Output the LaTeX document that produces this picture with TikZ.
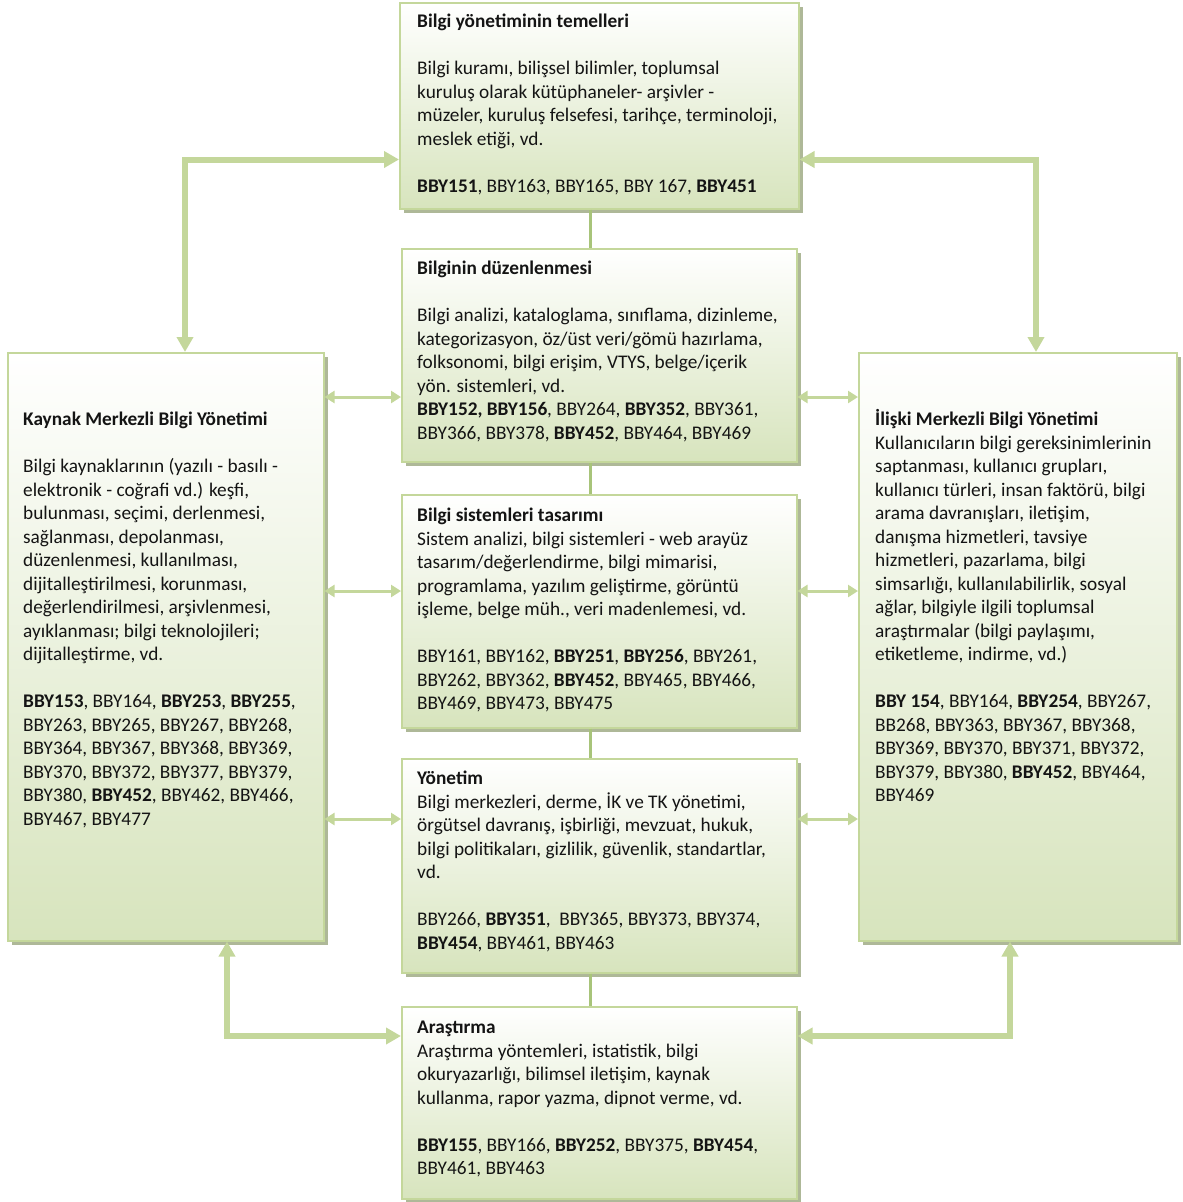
\documentclass[tikz,border=0pt]{standalone}
\usepackage{fontspec}
\setmainfont{Carlito}
\usetikzlibrary{arrows.meta,shadows,calc}
\definecolor{boxline}{HTML}{C4D79B}
\definecolor{boxfill}{HTML}{D7E4BD}
\definecolor{shadowc}{HTML}{AEB898}
\definecolor{conn}{HTML}{C4D79B}
\definecolor{vline}{HTML}{A8C47A}
\definecolor{txtc}{HTML}{141414}
\tikzset{
 panel/.style={draw=boxline, line width=1.5pt, top color=white, bottom color=boxfill, anchor=north west, inner sep=0pt,
   general shadow={fill=shadowc, shadow xshift=4pt, shadow yshift=-4pt}},
 txt/.style={anchor=base west, inner sep=0pt, font=\fontsize{19.3}{23.5}\selectfont, text=txtc},
 bigconn/.style={draw=conn, line width=6pt, {Triangle[length=15pt,width=16pt]}-{Triangle[length=15pt,width=16pt]}},
 smallconn/.style={draw=conn, line width=3pt, {Triangle[length=10pt,width=12pt]}-{Triangle[length=10pt,width=12pt]}},
 link/.style={draw=vline, line width=3pt},
}
\begin{document}
\begin{tikzpicture}[x=1pt,y=-1pt]
\useasboundingbox (0,0) rectangle (1183,1202);
% boxes
\node[panel, minimum width=399pt, minimum height=206pt] (T) at (399,2) {};
\node[panel, minimum width=395pt, minimum height=213pt] (O) at (401,248) {};
\node[panel, minimum width=395pt, minimum height=233pt] (S) at (401,494) {};
\node[panel, minimum width=395pt, minimum height=214pt] (Y) at (401,758) {};
\node[panel, minimum width=395pt, minimum height=192pt] (A) at (401,1006) {};
\node[panel, minimum width=316pt, minimum height=588pt] (L) at (7,352) {};
\node[panel, minimum width=318pt, minimum height=588pt] (R) at (858,352) {};
% vertical links
\draw[link] ([xshift=-9pt]T.south) -- ([xshift=-9pt]O.north);
\draw[link] ([xshift=-9pt]O.south) -- ([xshift=-9pt]S.north);
\draw[link] ([xshift=-9pt]S.south) -- ([xshift=-9pt]Y.north);
\draw[link] ([xshift=-9pt]Y.south) -- ([xshift=-9pt]A.north);
% outer connectors
\draw[bigconn] ([xshift=178pt]L.north west) |- ([yshift=50pt]T.south west);
\draw[bigconn] ([yshift=50pt]T.south east) -| ([xshift=178pt]R.north west);
\draw[bigconn] ([xshift=220pt]L.south west) |- ([yshift=-30pt]A.north west);
\draw[bigconn] ([xshift=152pt]R.south west) |- ([yshift=-30pt]A.north east);
% side double arrows
\coordinate (l1) at ($(L.north east)+(0,45)$);
\coordinate (l2) at ($(L.north east)+(0,239)$);
\coordinate (l3) at ($(L.north east)+(0,467)$);
\coordinate (r1) at ($(R.north west)+(0,45)$);
\coordinate (r2) at ($(R.north west)+(0,239)$);
\coordinate (r3) at ($(R.north west)+(0,467)$);
\draw[smallconn] (l1) -- (l1 -| O.west);
\draw[smallconn] (l2) -- (l2 -| S.west);
\draw[smallconn] (l3) -- (l3 -| Y.west);
\draw[smallconn] (r1 -| O.east) -- (r1);
\draw[smallconn] (r2 -| S.east) -- (r2);
\draw[smallconn] (r3 -| Y.east) -- (r3);
% texts
\node[txt] (tT) at (417,27.5) {\parbox[t]{400pt}{\textbf{Bilgi yönetiminin temelleri}\\[23.5pt]
Bilgi kuramı, bilişsel bilimler, toplumsal\\
kuruluş olarak kütüphaneler- arşivler -\\
müzeler, kuruluş felsefesi, tarihçe, terminoloji,\\
meslek etiği, vd.\\[23.5pt]
\textbf{BBY151}, BBY163, BBY165, BBY 167, \textbf{BBY451}}};
\node[txt] (tO) at (417,274.5) {\parbox[t]{400pt}{\textbf{Bilginin düzenlenmesi}\\[23.5pt]
Bilgi analizi, kataloglama, sınıflama, dizinleme,\\
kategorizasyon, öz/üst veri/gömü hazırlama,\\
folksonomi, bilgi erişim, VTYS, belge/içerik\\
yön. sistemleri, vd.\\
\textbf{BBY152, BBY156}, BBY264, \textbf{BBY352}, BBY361,\\
BBY366, BBY378, \textbf{BBY452}, BBY464, BBY469}};
\node[txt] (tS) at (417,521.5) {\parbox[t]{400pt}{\textbf{Bilgi sistemleri tasarımı}\\
Sistem analizi, bilgi sistemleri - web arayüz\\
tasarım/değerlendirme, bilgi mimarisi,\\
programlama, yazılım geliştirme, görüntü\\
işleme, belge müh., veri madenlemesi, vd.\\[23.5pt]
BBY161, BBY162, \textbf{BBY251}, \textbf{BBY256}, BBY261,\\
BBY262, BBY362, \textbf{BBY452}, BBY465, BBY466,\\
BBY469, BBY473, BBY475}};
\node[txt] (tY) at (417,784.5) {\parbox[t]{400pt}{\textbf{Yönetim}\\
Bilgi merkezleri, derme, İK ve TK yönetimi,\\
örgütsel davranış, işbirliği, mevzuat, hukuk,\\
bilgi politikaları, gizlilik, güvenlik, standartlar,\\
vd.\\[23.5pt]
BBY266, \textbf{BBY351},~ BBY365, BBY373, BBY374,\\
\textbf{BBY454}, BBY461, BBY463}};
\node[txt] (tA) at (417,1033.5) {\parbox[t]{400pt}{\textbf{Araştırma}\\
Araştırma yöntemleri, istatistik, bilgi\\
okuryazarlığı, bilimsel iletişim, kaynak\\
kullanma, rapor yazma, dipnot verme, vd.\\[23.5pt]
\textbf{BBY155}, BBY166, \textbf{BBY252}, BBY375, \textbf{BBY454},\\
BBY461, BBY463}};
\node[txt] (tL) at (23,425.5) {\parbox[t]{320pt}{\textbf{Kaynak Merkezli Bilgi Yönetimi}\\[23.5pt]
Bilgi kaynaklarının (yazılı - basılı -\\
elektronik - coğrafi vd.) keşfi,\\
bulunması, seçimi, derlenmesi,\\
sağlanması, depolanması,\\
düzenlenmesi, kullanılması,\\
dijitalleştirilmesi, korunması,\\
değerlendirilmesi, arşivlenmesi,\\
ayıklanması; bilgi teknolojileri;\\
dijitalleştirme, vd.\\[23.5pt]
\textbf{BBY153}, BBY164, \textbf{BBY253}, \textbf{BBY255},\\
BBY263, BBY265, BBY267, BBY268,\\
BBY364, BBY367, BBY368, BBY369,\\
BBY370, BBY372, BBY377, BBY379,\\
BBY380, \textbf{BBY452}, BBY462, BBY466,\\
BBY467, BBY477}};
\node[txt] (tR) at (875,425.5) {\parbox[t]{320pt}{\textbf{İlişki Merkezli Bilgi Yönetimi}\\
Kullanıcıların bilgi gereksinimlerinin\\
saptanması, kullanıcı grupları,\\
kullanıcı türleri, insan faktörü, bilgi\\
arama davranışları, iletişim,\\
danışma hizmetleri, tavsiye\\
hizmetleri, pazarlama, bilgi\\
simsarlığı, kullanılabilirlik, sosyal\\
ağlar, bilgiyle ilgili toplumsal\\
araştırmalar (bilgi paylaşımı,\\
etiketleme, indirme, vd.)\\[23.5pt]
\textbf{BBY 154}, BBY164, \textbf{BBY254}, BBY267,\\
BB268, BBY363, BBY367, BBY368,\\
BBY369, BBY370, BBY371, BBY372,\\
BBY379, BBY380, \textbf{BBY452}, BBY464,\\
BBY469}};
\end{tikzpicture}
\end{document}
